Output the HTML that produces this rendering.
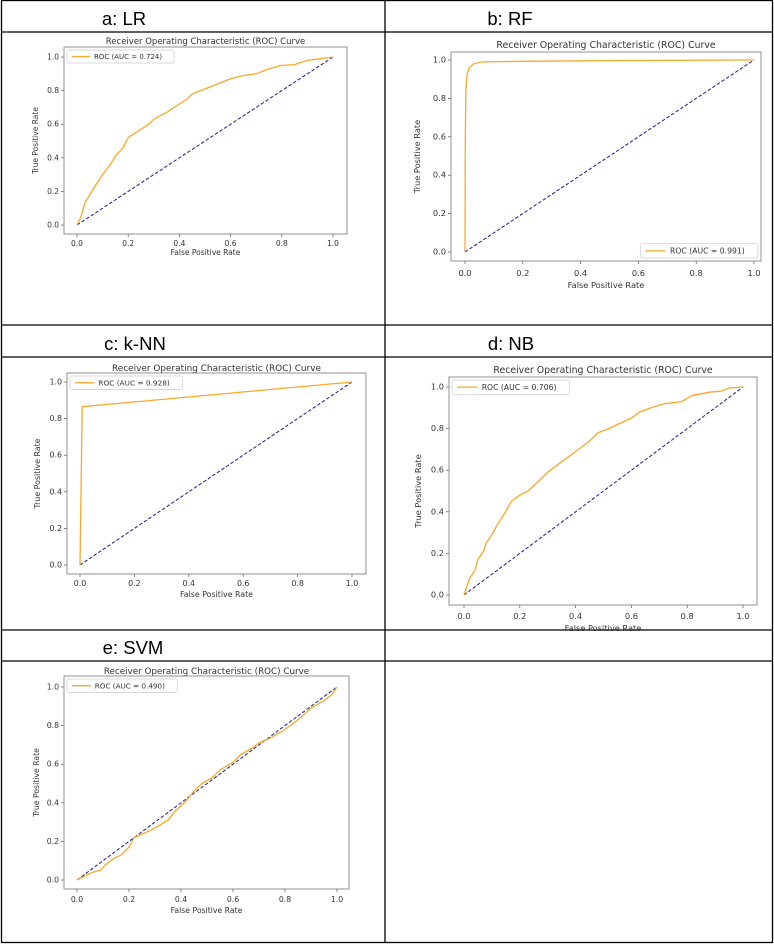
<!DOCTYPE html>
<html><head><meta charset="utf-8"><style>
html,body{margin:0;padding:0;background:#fff;}
svg{display:block;}
.hdr{font-family:"Liberation Sans",sans-serif;font-size:18.5px;fill:#000;}
.t{font-family:"DejaVu Sans",sans-serif;fill:#333;}
</style></head><body>
<svg id="fig" width="774" height="944" viewBox="0 0 774 944" xmlns="http://www.w3.org/2000/svg">
<g stroke="#000" stroke-width="1.3" fill="none">
<rect x="1.5" y="0.5" width="771" height="942"/>
<line x1="385" y1="0" x2="385" y2="943"/>
<line x1="1" y1="32" x2="772" y2="32"/>
<line x1="1" y1="325" x2="772" y2="325"/>
<line x1="1" y1="357" x2="772" y2="357"/>
<line x1="1" y1="630" x2="772" y2="630"/>
<line x1="1" y1="661" x2="772" y2="661"/>
</g>
<text class="hdr" x="124" y="25" text-anchor="middle">a: LR</text>
<text class="hdr" x="510" y="25" text-anchor="middle">b: RF</text>
<text class="hdr" x="135" y="350" text-anchor="middle">c: k-NN</text>
<text class="hdr" x="511" y="350" text-anchor="middle">d: NB</text>
<text class="hdr" x="133" y="654" text-anchor="middle">e: SVM</text>
</svg>
<script>
const lrFpr=[0,0.01,0.02,0.03,0.05,0.07,0.1,0.13,0.15,0.18,0.2,0.25,0.28,0.3,0.35,0.4,0.43,0.45,0.5,0.55,0.6,0.65,0.7,0.75,0.8,0.85,0.88,0.9,0.95,1];
const lrTpr=[0,0.03,0.07,0.13,0.18,0.23,0.3,0.36,0.41,0.46,0.52,0.57,0.6,0.63,0.67,0.72,0.75,0.78,0.81,0.84,0.87,0.89,0.9,0.93,0.95,0.955,0.97,0.98,0.99,1];
const rfFpr=[0,0.001,0.003,0.008,0.015,0.03,0.06,0.2,0.5,1];
const rfTpr=[0,0.6,0.85,0.93,0.96,0.98,0.99,0.993,0.997,1];
const knnFpr=[0,0.008,1];
const knnTpr=[0,0.865,1];
const nbFpr=[0,0.01,0.02,0.04,0.05,0.07,0.08,0.1,0.12,0.14,0.17,0.2,0.23,0.27,0.3,0.33,0.37,0.4,0.45,0.48,0.52,0.55,0.6,0.63,0.67,0.72,0.78,0.82,0.88,0.92,0.95,1];
const nbTpr=[0,0.04,0.08,0.12,0.17,0.21,0.25,0.29,0.34,0.38,0.45,0.48,0.5,0.55,0.59,0.62,0.66,0.69,0.74,0.78,0.8,0.82,0.85,0.88,0.9,0.92,0.93,0.96,0.975,0.98,0.995,1];
const svmFpr=[0,0.03,0.06,0.09,0.11,0.14,0.17,0.2,0.22,0.27,0.3,0.35,0.38,0.42,0.45,0.48,0.52,0.55,0.6,0.63,0.67,0.7,0.75,0.8,0.85,0.9,0.95,0.98,1];
const svmTpr=[0,0.02,0.04,0.05,0.08,0.11,0.13,0.17,0.22,0.25,0.27,0.31,0.36,0.41,0.46,0.5,0.53,0.57,0.61,0.65,0.68,0.71,0.74,0.78,0.83,0.89,0.93,0.96,1];
const aucLabels=["ROC (AUC = 0.724)","ROC (AUC = 0.991)","ROC (AUC = 0.928)","ROC (AUC = 0.706)","ROC (AUC = 0.490)"];
const tickVals=[0,0.2,0.4,0.6,0.8,1.0];
const tickLabels=["0.0","0.2","0.4","0.6","0.8","1.0"];

const NS="http://www.w3.org/2000/svg";
const svg=document.getElementById('fig');
function mk(tag,attrs,parent){const e=document.createElementNS(NS,tag);for(const k in attrs)e.setAttribute(k,attrs[k]);parent.appendChild(e);return e;}

const panels=[
 {id:'lr',fpr:lrFpr,tpr:lrTpr,box:[64,47,347,234],x0:77,x1:333,y0:225,y1:57,title:41,tick:244,xl:253,yl:38,leg:'ul',lab:0,fs:1},
 {id:'rf',fpr:rfFpr,tpr:rfTpr,box:[451,52,761,261],x0:465,x1:754,y0:252,y1:60,title:45,tick:274,xl:286,yl:420,leg:'lr',lab:1,fs:1.1},
 {id:'knn',fpr:knnFpr,tpr:knnTpr,box:[67,373,366,574],x0:80,x1:352,y0:565,y1:382,title:368,tick:584,xl:595,yl:40,leg:'ul',lab:2,fs:1.05},
 {id:'nb',fpr:nbFpr,tpr:nbTpr,box:[449,377,757,605],x0:464,x1:743,y0:595,y1:387,title:370,tick:617,xl:629,yl:421,leg:'ul',lab:3,fs:1.1},
 {id:'svm',fpr:svmFpr,tpr:svmTpr,box:[64,676,349,889],x0:77,x1:337,y0:880,y1:687,title:671,tick:900,xl:911,yl:39,leg:'ul',lab:4,fs:1.03}
];

panels.forEach(p=>{
 const g=mk('g',{},svg);
 
 
 const sx=v=>p.x0+v*(p.x1-p.x0), sy=v=>p.y0+v*(p.y1-p.y0);
 const [L,T,R,B]=p.box;
 const fs=p.fs;
 const tt=mk('text',{class:'t',x:(L+R)/2,y:p.title+3,'text-anchor':'middle','font-size':8.5*fs,fill:'#222'},g);
 tt.textContent='Receiver Operating Characteristic (ROC) Curve';
 
 
 tickVals.forEach((v,i)=>{
  mk('line',{x1:sx(v),x2:sx(v),y1:B,y2:B+3,stroke:'#555','stroke-width':0.7},g);
  const xt=mk('text',{class:'t',x:sx(v),y:p.tick+2,'text-anchor':'middle','font-size':7.5*fs},g);
  xt.textContent=tickLabels[i];
  
  
  mk('line',{x1:L-3,x2:L,y1:sy(v),y2:sy(v),stroke:'#555','stroke-width':0.7},g);
  const yt=mk('text',{class:'t',x:L-5,y:sy(v)+2.5,'text-anchor':'end','font-size':7.5*fs},g);
  yt.textContent=tickLabels[i];
  
  
 });
 const xl=mk('text',{class:'t',x:(L+R)/2,y:p.xl+2,'text-anchor':'middle','font-size':7.5*fs},g);
 xl.textContent='False Positive Rate';
 
 
 const ym=(T+B)/2;
 const yl=mk('text',{class:'t',x:p.yl,y:ym,'text-anchor':'middle','font-size':7.5*fs,transform:`rotate(-90 ${p.yl} ${ym})`},g);
 yl.textContent='True Positive Rate';
 
 
 const dg=mk('line',{x1:sx(0),y1:sy(0),x2:sx(1),y2:sy(1),stroke:'#1a1a8c','stroke-width':1,'stroke-dasharray':'3.5,2'},g);
 
 
 const pts=p.fpr.map((f,i)=>sx(f).toFixed(1)+','+sy(p.tpr[i]).toFixed(1)).join(' ');
 const cv=mk('polyline',{points:pts,fill:'none',stroke:'#f7a828','stroke-width':1.3},g);
 
 
 mk('rect',{x:L,y:T,width:R-L,height:B-T,fill:'none',stroke:'#777','stroke-width':0.8},g);
 const lw=107*fs, lh=13*fs;
 let lx,ly;
 if(p.leg==='ul'){lx=L+3;ly=T+3;}else{lx=R-lw-3;ly=B-lh-3;}
 const lg=mk('g',{},g);
 
 
 mk('rect',{x:lx,y:ly,width:lw,height:lh,rx:2,fill:'#fff',stroke:'#ccc','stroke-width':0.7},lg);
 mk('line',{x1:lx+5,x2:lx+23*fs,y1:ly+lh/2,y2:ly+lh/2,stroke:'#f7a828','stroke-width':1.3},lg);
 const lt=mk('text',{class:'t',x:lx+27*fs,y:ly+lh/2+2.5*fs,'font-size':7*fs},lg);
 lt.textContent=aucLabels[p.lab];
 
 
});
</script>
</body></html>
